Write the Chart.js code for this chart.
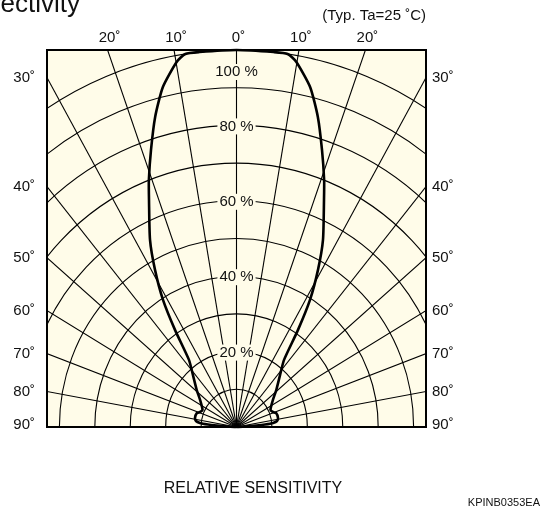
<!DOCTYPE html>
<html><head><meta charset="utf-8">
<style>html,body{margin:0;padding:0;background:#fff;overflow:hidden}#c{display:block}</style>
<script src="https://cdn.jsdelivr.net/npm/chart.js@4.4.1/dist/chart.umd.min.js"></script>
</head><body>
<canvas id="c" width="543" height="517" style="width:543px;height:517px"></canvas>
<script>
// ---- data (angle in degrees from the optical axis, relative sensitivity in %)
const angleDeg = [-90,-87,-86,-85.3,-84.1,-82.1,-78.4,-71.8,-68.9,-64.8,-55.2,-48.9,-41.7,-37,-34,-31.6,-28.9,-26.2,-22.3,-20.7,-18.2,-15.6,-13,-9.9,-8.3,-6,0,6,8.3,9.9,13,15.6,18.2,20.7,22.3,26.2,28.9,31.6,34,37,41.7,48.9,55.2,64.8,68.9,71.8,78.4,82.1,84.1,85.3,86,87,90];
const relSensitivity = [0,2.4,5.6,8.1,10.4,11.55,11.96,11.8,11.05,10.6,12.5,14.9,18.5,22.3,31,39.6,47.6,55.3,65.1,70,77.3,85.4,92.5,98.3,100,100,100,100,100,98.3,92.5,85.4,77.3,70,65.1,55.3,47.6,39.6,31,22.3,18.5,14.9,12.5,10.6,11.05,11.8,11.96,11.55,10.4,8.1,5.6,2.4,0];
const radialTicksDeg = [-90,-80,-70,-60,-50,-40,-30,-20,-10,0,10,20,30,40,50,60,70,80,90];
const ringTicksPct = [10,20,30,40,50,60,70,80,90,100];
const ringLabelsPct = [20,40,60,80,100];
const titleText = 'Directivity';
const conditionText = '(Typ. Ta=25 ˚C)';
const xAxisTitle = 'RELATIVE SENSITIVITY';
const codeText = 'KPINB0353EA';

const FONT = '"Liberation Sans", Arial, Helvetica, sans-serif';
const CREAM = '#fffce9';
const X_HALF = 53.5;

const points = angleDeg.map((a, i) => {
  const t = a * Math.PI / 180;
  return { x: relSensitivity[i] * Math.sin(t), y: relSensitivity[i] * Math.cos(t) };
});

const polarGrid = {
  id: 'polarGrid',
  beforeDatasetsDraw(chart) {
    const { ctx, chartArea: ca, scales: { x, y } } = chart;
    const cx = x.getPixelForValue(0), cy = y.getPixelForValue(0);
    ctx.save();
    ctx.fillStyle = CREAM;
    ctx.fillRect(ca.left, ca.top, ca.right - ca.left, ca.bottom - ca.top);
    ctx.beginPath();
    ctx.rect(ca.left, ca.top, ca.right - ca.left, ca.bottom - ca.top);
    ctx.clip();
    ctx.strokeStyle = '#000';
    ctx.lineWidth = 1.1;
    ringTicksPct.forEach(r => {
      const rx = x.getPixelForValue(r) - cx;
      const ry = cy - y.getPixelForValue(r);
      ctx.beginPath();
      ctx.ellipse(cx, cy, rx, ry, 0, Math.PI, 2 * Math.PI);
      ctx.stroke();
    });
    radialTicksDeg.forEach(a => {
      const t = a * Math.PI / 180;
      ctx.beginPath();
      ctx.moveTo(cx, cy);
      ctx.lineTo(x.getPixelForValue(300 * Math.sin(t)), y.getPixelForValue(300 * Math.cos(t)));
      ctx.stroke();
    });
    // percentage labels with masking background
    ctx.font = '15px ' + FONT;
    ctx.textAlign = 'center';
    ctx.textBaseline = 'middle';
    ringLabelsPct.forEach(r => {
      const txt = r + ' %';
      const w = ctx.measureText(txt).width;
      let py = y.getPixelForValue(r) + 1;
      if (r === 100) py = y.getPixelForValue(r) + 22;
      ctx.fillStyle = CREAM;
      ctx.fillRect(cx - w / 2 - 2, py - 8, w + 4, 16);
      ctx.fillStyle = '#111';
      ctx.fillText(txt, cx, py);
    });
    ctx.restore();
  },
  afterDatasetsDraw(chart) {
    const { ctx, chartArea: ca, scales: { x, y } } = chart;
    ctx.save();
    ctx.strokeStyle = '#000';
    ctx.lineWidth = 2;
    ctx.strokeRect(ca.left, ca.top, ca.right - ca.left, ca.bottom - ca.top);
    ctx.fillStyle = '#111';
    ctx.font = '15px ' + FONT;
    ctx.textBaseline = 'middle';
    radialTicksDeg.forEach(a => {
      const t = Math.abs(a) * Math.PI / 180;
      const lbl = Math.abs(a) + '˚';
      const xt = 100 * Math.tan(t);
      if (xt <= X_HALF) {
        ctx.textAlign = 'center';
        ctx.fillText(lbl, x.getPixelForValue(Math.sign(a) * xt) + 2, ca.top - 12);
      } else {
        const yv = Math.abs(a) === 90 ? 0 : X_HALF / Math.tan(t);
        const py = Math.min(y.getPixelForValue(yv), ca.bottom - 2);
        if (a < 0) { ctx.textAlign = 'right'; ctx.fillText(lbl, ca.left - 12, py); }
        else { ctx.textAlign = 'left'; ctx.fillText(lbl, ca.right + 6, py); }
      }
    });
    ctx.textAlign = 'right';
    ctx.fillText(conditionText, ca.right, 16);
    ctx.font = '16px ' + FONT;
    ctx.textAlign = 'center';
    ctx.fillText(xAxisTitle, 253, 489);
    ctx.font = '11px ' + FONT;
    ctx.textAlign = 'right';
    ctx.fillText(codeText, 540, 503);
    ctx.font = '26px ' + FONT;
    ctx.textAlign = 'right';
    ctx.textBaseline = 'alphabetic';
    ctx.fillText(titleText, 80, 12);
    ctx.restore();
  }
};

new Chart(document.getElementById('c'), {
  type: 'scatter',
  data: { datasets: [{ data: points, showLine: true, borderColor: '#000', borderWidth: 2.6,
    pointRadius: 0, tension: 0.2, clip: 6, fill: false }] },
  options: {
    responsive: false, animation: false, devicePixelRatio: 1,
    layout: { padding: { left: 47, right: 117, top: 50, bottom: 90 } },
    plugins: { legend: { display: false }, tooltip: { enabled: false } },
    scales: {
      x: { type: 'linear', min: -X_HALF, max: X_HALF, display: false },
      y: { type: 'linear', min: 0, max: 100, display: false }
    }
  },
  plugins: [polarGrid]
});
</script>
</body></html>
